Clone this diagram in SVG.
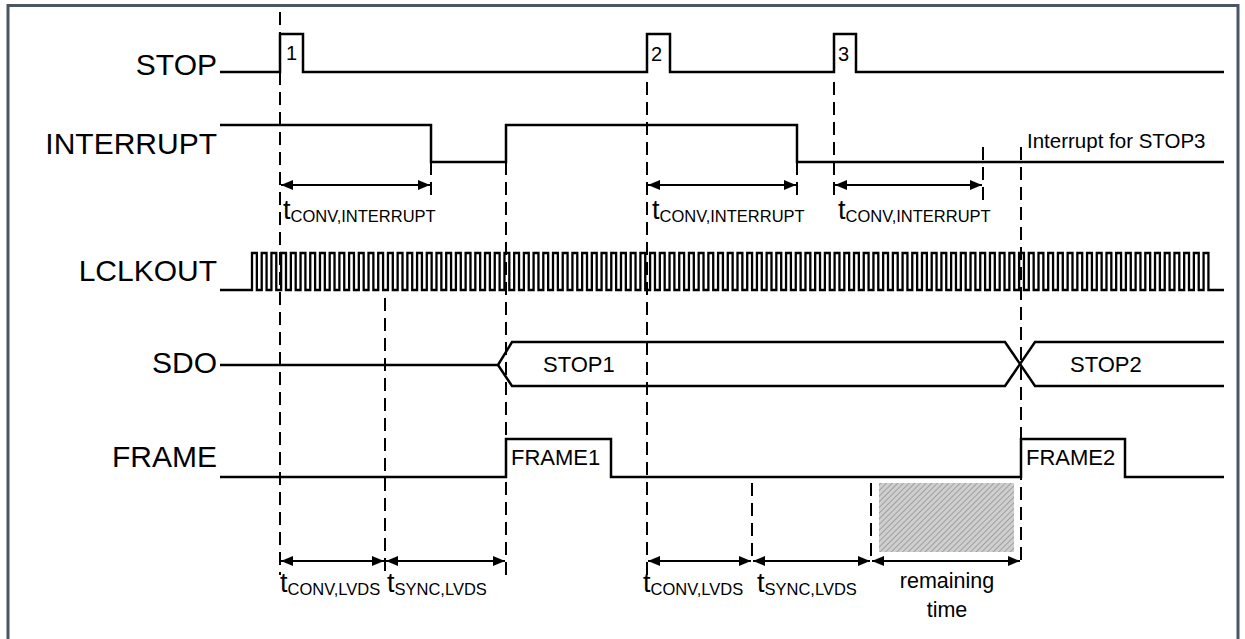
<svg xmlns="http://www.w3.org/2000/svg" width="1245" height="639" viewBox="0 0 1245 639">
<style>
.sig{fill:none;stroke:#000;stroke-width:2.5;stroke-linejoin:miter}
.dash{fill:none;stroke:#000;stroke-width:2;stroke-dasharray:13 7}
.arr{fill:none;stroke:#000;stroke-width:2;marker-start:url(#ah);marker-end:url(#ah)}
.lbl{font-family:"Liberation Sans",Arial,sans-serif;font-size:30px;fill:#000;text-anchor:end}
.txt{font-family:"Liberation Sans",Arial,sans-serif;font-size:22px;fill:#000}
.num{font-family:"Liberation Sans",Arial,sans-serif;font-size:20px;fill:#000}
.t{font-family:"Liberation Sans",Arial,sans-serif;font-size:27px;fill:#000}
.sub{font-size:16.5px}
</style>
<defs>
<marker id="ah" viewBox="0 0 12 10" refX="12" refY="5" markerWidth="12" markerHeight="10" markerUnits="userSpaceOnUse" orient="auto-start-reverse">
<path d="M0,0 L12,5 L0,10 z" fill="#000"/>
</marker>
<pattern id="hatch" width="4" height="4" patternUnits="userSpaceOnUse" patternTransform="rotate(45)">
<rect width="4" height="4" fill="#cfcfcf"/>
<line x1="0" y1="0" x2="0" y2="4" stroke="#7f7f7f" stroke-width="1.2"/>
</pattern>
</defs>
<rect x="0" y="0" width="1245" height="639" fill="#fff"/>
<rect x="8" y="5.5" width="1230" height="700" fill="none" stroke="#4a5662" stroke-width="3"/>

<g id="stop">
<text class="lbl" x="217" y="75">STOP</text>
<path class="sig" d="M220 72 H280 V34 H303 V72 H647 V34 H670 V72 H834 V34 H856 V72 H1224"/>
<text class="num" x="286" y="60">1</text>
<text class="num" x="651" y="61">2</text>
<text class="num" x="838" y="61">3</text>
</g>

<g id="interrupt">
<text class="lbl" x="217" y="154">INTERRUPT</text>
<path class="sig" d="M220 125 H431 V162 H506 V125 H797 V162 H1224"/>
<text class="txt" x="1027" y="148" style="font-size:20.5px">Interrupt for STOP3</text>
</g>

<g id="lclkout">
<text class="lbl" x="217" y="281">LCLKOUT</text>
<path class="sig" style="stroke-width:2.3" d="M220 290 H252 v-37h4.855v37h4.855v-37h4.855v37h4.855v-37h4.855v37h4.855v-37h4.855v37h4.855v-37h4.855v37h4.855v-37h4.855v37h4.855v-37h4.855v37h4.855v-37h4.855v37h4.855v-37h4.855v37h4.855v-37h4.855v37h4.855v-37h4.855v37h4.855v-37h4.855v37h4.855v-37h4.855v37h4.855v-37h4.855v37h4.855v-37h4.855v37h4.855v-37h4.855v37h4.855v-37h4.855v37h4.855v-37h4.855v37h4.855v-37h4.855v37h4.855v-37h4.855v37h4.855v-37h4.855v37h4.855v-37h4.855v37h4.855v-37h4.855v37h4.855v-37h4.855v37h4.855v-37h4.855v37h4.855v-37h4.855v37h4.855v-37h4.855v37h4.855v-37h4.855v37h4.855v-37h4.855v37h4.855v-37h4.855v37h4.855v-37h4.855v37h4.855v-37h4.855v37h4.855v-37h4.855v37h4.855v-37h4.855v37h4.855v-37h4.855v37h4.855v-37h4.855v37h4.855v-37h4.855v37h4.855v-37h4.855v37h4.855v-37h4.855v37h4.855v-37h4.855v37h4.855v-37h4.855v37h4.855v-37h4.855v37h4.855v-37h4.855v37h4.855v-37h4.855v37h4.855v-37h4.855v37h4.855v-37h4.855v37h4.855v-37h4.855v37h4.855v-37h4.855v37h4.855v-37h4.855v37h4.855v-37h4.855v37h4.855v-37h4.855v37h4.855v-37h4.855v37h4.855v-37h4.855v37h4.855v-37h4.855v37h4.855v-37h4.855v37h4.855v-37h4.855v37h4.855v-37h4.855v37h4.855v-37h4.855v37h4.855v-37h4.855v37h4.855v-37h4.855v37h4.855v-37h4.855v37h4.855v-37h4.855v37h4.855v-37h4.855v37h4.855v-37h4.855v37h4.855v-37h4.855v37h4.855v-37h4.855v37h4.855v-37h4.855v37h4.855v-37h4.855v37h4.855v-37h4.855v37h4.855v-37h4.855v37h4.855v-37h4.855v37h4.855v-37h4.855v37h4.855v-37h4.855v37h4.855v-37h4.855v37h4.855v-37h4.855v37h4.855v-37h4.855v37h4.855v-37h4.855v37h4.855v-37h4.855v37h4.855v-37h4.855v37h4.855v-37h4.855v37h4.855v-37h4.855v37h4.855v-37h4.855v37h4.855v-37h4.855v37h4.855v-37h4.855v37h4.855v-37h4.855v37h4.855v-37h4.855v37h4.855v-37h4.855v37h4.855v-37h4.855v37h4.855v-37h4.855v37h4.855v-37h4.855v37h4.855v-37h4.855v37h4.855v-37h4.855v37h4.855v-37h4.855v37h4.855v-37h4.855v37h4.855v-37h4.855v37h4.855v-37h4.855v37h4.855v-37h4.855v37h4.855v-37h4.855v37h4.855v-37h4.855v37h4.855 H1224"/>
</g>

<g id="sdo">
<text class="lbl" x="217" y="373">SDO</text>
<path class="sig" d="M220 365 H498 L512 342 H1005 L1035 386 H1224"/>
<path class="sig" d="M498 365 L512 386 H1005 L1035 342 H1224"/>
<text class="txt" x="543" y="372">STOP1</text>
<text class="txt" x="1070" y="372">STOP2</text>
</g>

<g id="frame">
<text class="lbl" x="217" y="467">FRAME</text>
<path class="sig" d="M220 477 H506 V439 H611 V477 H1021 V439 H1125 V477 H1224"/>
<text class="txt" x="511" y="465">FRAME1</text>
<text class="txt" x="1026" y="465">FRAME2</text>
</g>

<g id="remaining">
<rect x="879" y="483" width="135" height="69" fill="url(#hatch)"/>
<text class="txt" x="947" y="588" text-anchor="middle" style="font-size:21.5px">remaining</text>
<text class="txt" x="947" y="617" text-anchor="middle" style="font-size:21.5px">time</text>
</g>

<g id="connectors">
<path class="dash" d="M280 12 V575 M385 298 V575 M506 162 V575 M647 82 V575 M752 483 V561 M871 483 V561 M1021 147 V565 M431 162 V200 M797 162 V200 M834 82 V200 M983 147 V200"/>
<path class="arr" d="M281 185 H430"/>
<path class="arr" d="M648 185 H796"/>
<path class="arr" d="M835 185 H982"/>
<path class="arr" d="M281 561 H384"/>
<path class="arr" d="M386 561 H505"/>
<path class="arr" d="M648 561 H751"/>
<path class="arr" d="M753 561 H870"/>
<path class="arr" d="M872 561 H1020"/>
</g>

<g id="timing-labels">
<text class="t" x="283" y="219">t<tspan class="sub" dy="3">CONV,INTERRUPT</tspan></text>
<text class="t" x="652" y="219">t<tspan class="sub" dy="3">CONV,INTERRUPT</tspan></text>
<text class="t" x="838" y="219">t<tspan class="sub" dy="3">CONV,INTERRUPT</tspan></text>
<text class="t" x="280" y="592">t<tspan class="sub" dy="3">CONV,LVDS</tspan></text>
<text class="t" x="387" y="592">t<tspan class="sub" dy="3">SYNC,LVDS</tspan></text>
<text class="t" x="643" y="592">t<tspan class="sub" dy="3">CONV,LVDS</tspan></text>
<text class="t" x="757" y="592">t<tspan class="sub" dy="3">SYNC,LVDS</tspan></text>
</g>
</svg>
